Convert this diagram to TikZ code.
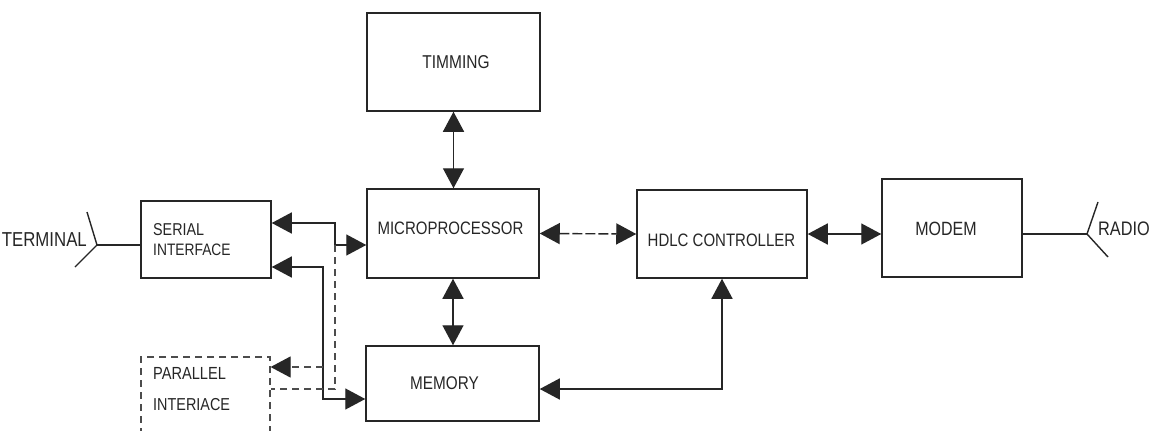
\documentclass[tikz,border=0pt]{standalone}
\usepackage{graphicx}
\usepackage{fontspec}
\setmainfont{Liberation Sans}
\usetikzlibrary{arrows.meta}
\newcommand{\lbl}[2]{\fontsize{#1}{#1}\selectfont\scalebox{1}[1.2]{#2}}
\begin{document}
\begin{tikzpicture}[x=1pt,y=-1pt,
  >={Triangle[length=20pt,width=21pt]},
  box/.style={draw=black!85, line width=1.5pt, inner sep=0pt},
  dbox/.style={draw=black!70, line width=1.2pt, dash pattern=on 7pt off 5pt, inner sep=0pt},
  lab/.style={inner sep=0pt, text=black!85},
  conn/.style={draw=black!85, line width=1.4pt},
  dconn/.style={draw=black!70, line width=1.2pt, dash pattern=on 7pt off 5pt},
  hconn/.style={draw=black!85, line width=1.4pt, dash pattern=on 10pt off 3pt}]
\useasboundingbox (0,0) rectangle (1152,431);
\fill[white] (0,0) rectangle (1152,431);

% boxes
\node[box, minimum width=173pt, minimum height=98pt] (timing) at (453.5,62) {};
\node[box, minimum width=172pt, minimum height=89pt] (micro) at (453,233.5) {};
\node[box, minimum width=173pt, minimum height=75pt] (memory) at (452.5,383.5) {};
\node[box, minimum width=130pt, minimum height=77pt] (serial) at (206,239.5) {};
\node[dbox, minimum width=129pt, minimum height=103pt] (parallel) at (205.5,408.5) {};
\node[box, minimum width=170pt, minimum height=88pt] (hdlc) at (722,234) {};
\node[box, minimum width=140pt, minimum height=98pt] (modem) at (952,228) {};

% labels
\node[lab] (ttiming) at (456,62) {\lbl{15.5}{TIMMING}};
\node[lab] (tmicro) at (450.5,228) {\lbl{15}{MICROPROCESSOR}};
\node[lab] (tmemory) at (444.5,383) {\lbl{15.3}{MEMORY}};
\node[lab] (thdlc) at (721.5,240) {\lbl{15}{HDLC CONTROLLER}};
\node[lab] (tmodem) at (946,229) {\lbl{16}{MODEM}};
\node[lab, anchor=west] (tserial1) at (153,230) {\lbl{14.3}{SERIAL}};
\node[lab, anchor=west] (tserial2) at (153,250) {\lbl{13.8}{INTERFACE}};
\node[lab, anchor=west] (tpar1) at (153,373) {\lbl{14.6}{PARALLEL}};
\node[lab, anchor=west] (tpar2) at (153,405) {\lbl{14.4}{INTERIACE}};
\node[lab, anchor=east] (tterm) at (87,240) {\lbl{16.8}{TERMINAL}};
\node[lab, anchor=west] (tradio) at (1098,229) {\lbl{16.3}{RADIO}};

% free-end coordinates
\coordinate (jdash1) at (323,367);
\coordinate (jdash2) at (335,245);
\coordinate (tvert) at (97,245);
\coordinate (tup) at (87,212);
\coordinate (tlow) at (75,267);
\coordinate (rvert) at (1087,234);
\coordinate (rup) at (1098,202);
\coordinate (rlow) at (1108,257);

% connectors
\draw[conn,<->] (timing.south) -- (timing.south |- micro.north);
\draw[conn,<->] (micro.south) -- (micro.south |- memory.north);
\draw[hconn,<->] (micro.east) -- (hdlc.west);
\draw[conn,<->] (hdlc.east) -- (hdlc.east -| modem.west);
\draw[conn,<->] (serial.east |- 0,223) -| (jdash2) -- (micro.west |- jdash2);
\draw[conn,<->] (serial.east |- 0,267) -| (323,399) -- (memory.west |- 0,399);
\draw[dconn,-{Triangle[length=20pt,width=21pt,color=black!85]}] (jdash1) -- (parallel.east |- jdash1);
\draw[dconn] (jdash2) |- (parallel.east |- 0,389);
\draw[conn,<->] (memory.east |- 0,389) -| (hdlc.south);

% terminal antenna
\draw[conn] (serial.west |- tvert) -- (tvert);
\draw[conn] (tup) -- (tvert) -- (tlow);
% radio antenna
\draw[conn] (modem.east |- rvert) -- (rvert);
\draw[conn] (rup) -- (rvert) -- (rlow);
\end{tikzpicture}
\end{document}
